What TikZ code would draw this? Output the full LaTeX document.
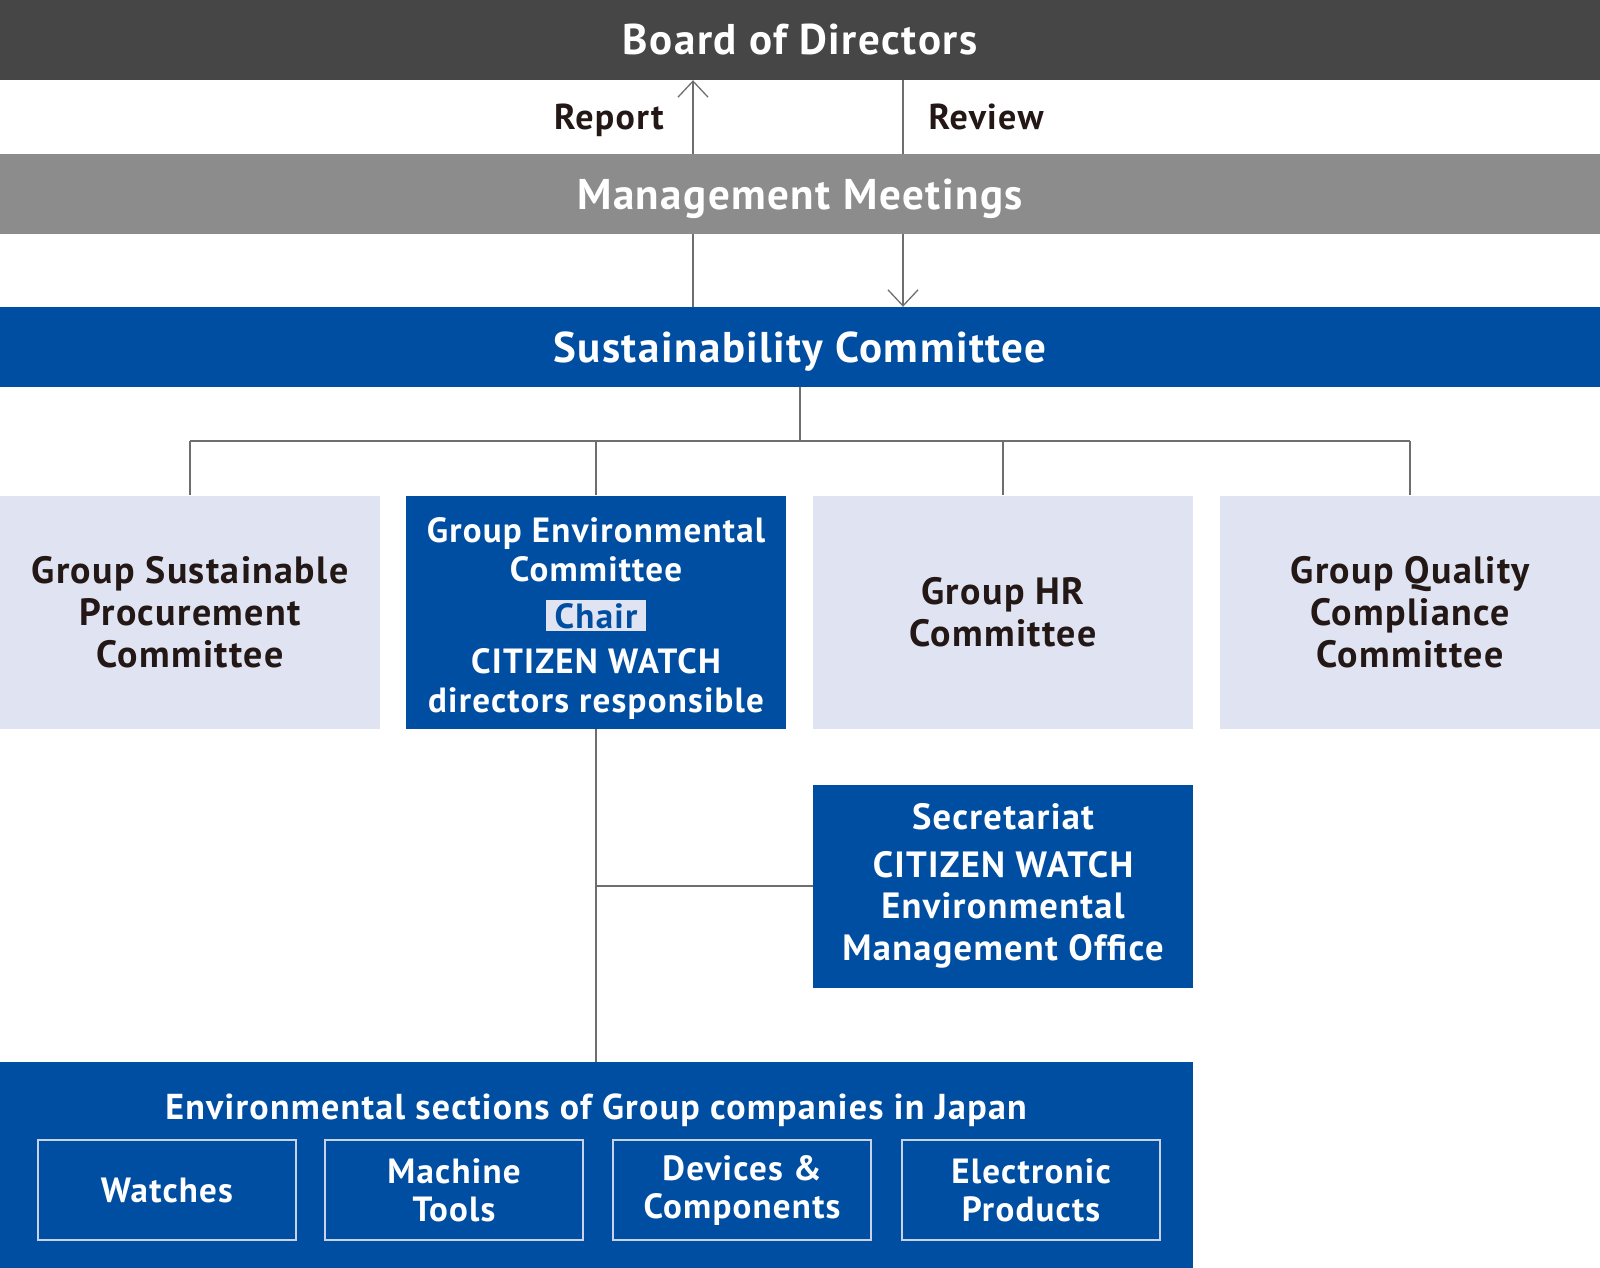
\documentclass[tikz,border=0pt]{standalone}
\usepackage{fontspec}
\setmainfont{PT Sans}[LetterSpace=3.5]
\usepackage{tikz}
\usetikzlibrary{positioning,arrows.meta,backgrounds}
\definecolor{azul}{RGB}{0,78,162}
\definecolor{grisoscuro}{RGB}{70,70,70}
\definecolor{grismedio}{RGB}{140,140,140}
\definecolor{celeste}{RGB}{223,227,242}
\definecolor{textooscuro}{RGB}{35,24,21}
\definecolor{gristrazo}{RGB}{110,110,110}
\definecolor{borde}{RGB}{200,210,235}

\begin{document}
\begin{tikzpicture}[x=1pt, y=-1pt,
  barra/.style={fill=#1, text=white, minimum width=1600pt, minimum height=80pt,
    inner sep=0pt, text height=30pt, text depth=0pt,
    font=\bfseries\fontsize{43}{48}\selectfont},
  caja/.style={fill=#1, minimum width=380pt, inner sep=0pt, align=center,
    font=\bfseries\fontsize{38}{42}\selectfont},
  subcaja/.style={draw=borde, line width=1.8pt, minimum width=258pt,
    minimum height=100pt, inner sep=0pt, align=center, text=white,
    font=\bfseries\fontsize{35}{38}\selectfont},
  etiqueta/.style={text=textooscuro, inner sep=0pt, text height=25pt, text depth=0pt,
    font=\bfseries\fontsize{36}{40}\selectfont},
  conector/.style={draw=gristrazo, line width=1.4pt},
  flecha/.style={conector, -{Straight Barb[length=16pt,width=30pt,line width=1.3pt]}},
]
  \useasboundingbox (0,0) rectangle (1600,1268);
  % Barras superiores
  \node[barra=grisoscuro] (directorio) at (800,40) {Board of Directors};
  \node[barra=grismedio] (gestion) at (800,194) {Management Meetings};
  \node[barra=azul] (sostenibilidad) at (800,347) {Sustainability Committee};
  \coordinate (x-reporte) at (693,0);
  \coordinate (x-revision) at (903,0);
  \node[etiqueta] (reporte) at (609,117) {Report};
  \node[etiqueta] (revision) at (986,117) {Review};
  % Comités
  \node[caja=celeste, text=textooscuro, minimum height=233pt] (c1) at (190,612)
    {Group Sustainable\\Procurement\\Committee};
  \node[caja=azul, text=white, minimum height=233pt,
    font=\bfseries\fontsize{35}{39}\selectfont] (c2) at (596,612)
    {\rule{0pt}{37pt}Group Environmental\\Committee\\[8pt]
     {\setlength{\fboxsep}{3pt}\colorbox{celeste}{\hspace{6pt}\color{azul}Chair\hspace{6pt}}}\\[6pt]
     CITIZEN WATCH\\directors responsible};
  \node[caja=celeste, text=textooscuro, minimum height=233pt] (c3) at (1003,612)
    {Group HR\\Committee};
  \node[caja=celeste, text=textooscuro, minimum height=233pt] (c4) at (1410,612)
    {Group Quality\\Compliance\\Committee};
  % Secretaría
  \node[caja=azul, text=white, minimum height=203pt,
    font=\bfseries\fontsize{36.5}{41.5}\selectfont] (secretaria) at (1003,886)
    {Secretariat\\[6pt]CITIZEN WATCH\\Environmental\\Management Office};
  % Secciones ambientales
  \node[fill=azul, minimum width=1193pt, minimum height=206pt, inner sep=0pt]
    (secciones) at (596.5,1165) {};
  \node[text=white, inner sep=0pt, text height=25pt, text depth=0pt,
    font=\bfseries\fontsize{36}{40}\selectfont]
    (titulo) at (596,1107) {Environmental sections of Group companies in Japan};
  \node[subcaja] (relojes) at (167,1190) {Watches};
  \node[subcaja] (maquinas) at (454,1190) {Machine\\Tools};
  \node[subcaja] (dispositivos) at (742,1190) {Devices \&\\Components};
  \node[subcaja] (electronicos) at (1031,1190) {Electronic\\Products};
  % Conectores
  \begin{scope}[on background layer]
    \draw[flecha] (sostenibilidad.north -| x-reporte) -- (directorio.south -| x-reporte);
    \draw[flecha] (directorio.south -| x-revision) -- (sostenibilidad.north -| x-revision);
    \coordinate (bus) at (800,441);
    \draw[conector] (sostenibilidad.south) -- (bus);
    \draw[conector] (c1.north |- bus) -- (c4.north |- bus);
    \foreach \c in {c1, c2, c3, c4}
      \draw[conector] (\c.north |- bus) -- (\c.north);
    \draw[conector] (c2.south) -- (c2.south |- secciones.north);
    \draw[conector] (secretaria.west) -- (secretaria.west -| c2.south);
  \end{scope}
\end{tikzpicture}
\end{document}
